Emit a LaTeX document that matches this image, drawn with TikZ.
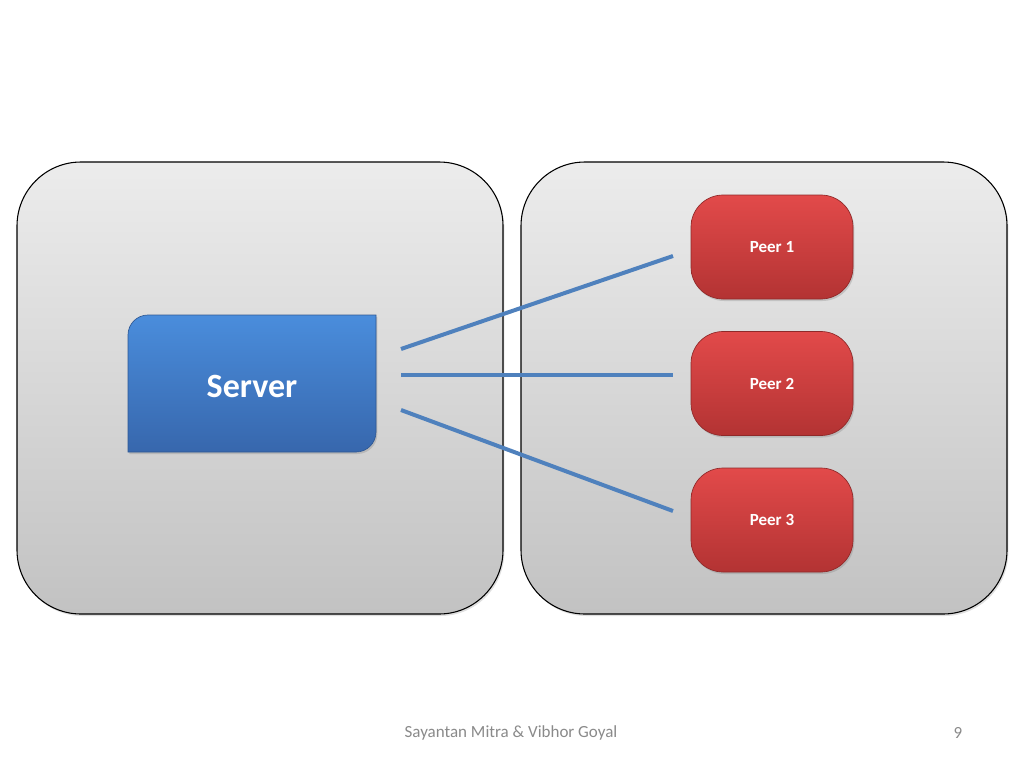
\documentclass[tikz,border=0pt]{standalone}
\usepackage{xcolor}
\usepackage{fontspec}
\setmainfont{Carlito}
\usetikzlibrary{shadows}
\definecolor{paneltop}{HTML}{ECECEC}
\definecolor{panelbot}{HTML}{C2C2C2}
\definecolor{servtop}{HTML}{4A8DDC}
\definecolor{servbot}{HTML}{3767AD}
\definecolor{peertop}{HTML}{E24A4A}
\definecolor{peerbot}{HTML}{B33333}
\definecolor{linkblue}{HTML}{4F81BD}
\definecolor{footgray}{HTML}{8A8A8A}
\tikzset{
  panel/.style={draw=black,line width=0.8pt,rounded corners=48pt,
    top color=paneltop,bottom color=panelbot,
    minimum width=364.5pt,minimum height=339pt,
    drop shadow={shadow xshift=1pt,shadow yshift=-1.5pt,opacity=0.25}},
  peer/.style={draw=peerbot!80!black,line width=0.5pt,rounded corners=24pt,
    top color=peertop,bottom color=peerbot,text=white,
    minimum width=121.5pt,minimum height=78pt,
    font=\fontsize{12.75}{15}\selectfont\bfseries,
    drop shadow={shadow xshift=1pt,shadow yshift=-1.5pt,opacity=0.3}},
  link/.style={draw=linkblue,line width=3pt}
}
\begin{document}
\begin{tikzpicture}[x=0.75pt,y=-0.75pt]
    \useasboundingbox[fill=white] (0,0) rectangle (1024,768);
    \node[panel] (lpanel) at (260,388) {};
    \node[panel] (rpanel) at (764,388) {};
    \path[top color=servtop,bottom color=servbot,draw=servbot!85!black,line width=0.5pt,
      drop shadow={shadow xshift=1pt,shadow yshift=-1.5pt,opacity=0.3}]
      (128,452) -- (128,335) arc[start angle=180,end angle=270,radius=20]
      -- (376,315) -- (376,432) arc[start angle=0,end angle=90,radius=20] -- cycle;
    \node[text=white,font=\fontsize{25.5}{30}\selectfont\bfseries] (server) at (252,386) {Server};
    \node[peer] (peer1) at (772,247) {Peer 1};
    \node[peer] (peer2) at (772,383.5) {Peer 2};
    \node[peer] (peer3) at (772,520) {Peer 3};
    \coordinate (s1) at (401,349);
    \coordinate (s2) at (401,375);
    \coordinate (s3) at (401,410);
    \coordinate (p1) at (673,256);
    \coordinate (p2) at (673,375);
    \coordinate (p3) at (673,511);
    \draw[link] (s1) to (p1);
    \draw[link] (s2) to (p2);
    \draw[link] (s3) to (p3);
    \node[text=footgray,font=\fontsize{12.75}{15}\selectfont] (names) at (511,733) {Sayantan Mitra \& Vibhor Goyal};
    \node[text=footgray,font=\fontsize{12.75}{15}\selectfont] (page) at (958,733) {9};
\end{tikzpicture}
\end{document}
